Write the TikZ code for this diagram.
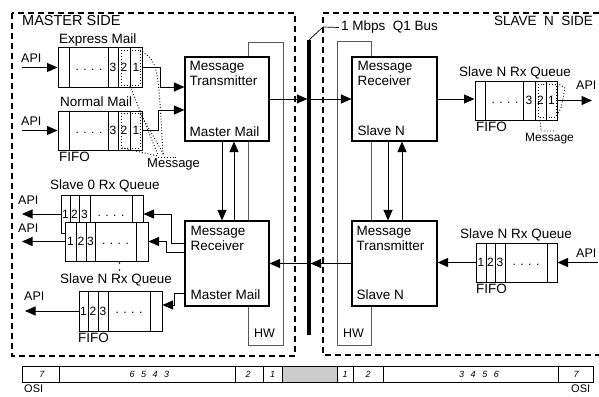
\documentclass[tikz,border=0pt]{standalone}
\usepackage{fontspec}
\setmainfont{Liberation Sans}
\usetikzlibrary{arrows.meta, positioning}
\tikzstyle{unit} = [draw, line width=1.1pt, fill=white, minimum width=84, minimum height=84, inner sep=0pt]
\tikzstyle{queue} = [draw, line width=1pt, fill=white, minimum width=83, minimum height=39, inner sep=0pt]
\tikzstyle{hw} = [draw=black!65, line width=0.6pt, inner sep=0pt]
\tikzstyle{arrow} = [line width=1pt, -{Triangle[length=10.5pt, width=9pt]}]
\tikzstyle{side} = [line width=1.3pt, dash pattern=on 6pt off 4pt]
\tikzstyle{lbl} = [anchor=base west, inner sep=0pt]
\tikzstyle{cell} = [inner sep=0pt, font=\fontsize{12}{12}\selectfont]
\tikzstyle{small} = [lbl, font=\fontsize{12.5}{12.5}\selectfont]
\tikzstyle{osinum} = [inner sep=0pt, font=\fontsize{9}{9}\selectfont\itshape]
\tikzstyle{msg} = [line width=0.9pt, dotted]
\newcommand{\osigap}{\hspace{6.5pt}}

\begin{document}
\begin{tikzpicture}[x=1pt, y=-1pt, font=\fontsize{13.5}{15}\selectfont]
\useasboundingbox (0,0) rectangle (599,396);

% both sides
\draw[side] (12,13) rectangle (295,356);
\draw[side] (599,13) -- (323,13) -- (323,355) -- (599,355);
\node[lbl, font=\fontsize{14.5}{15}\selectfont] (mside) at (22,26) {MASTER SIDE};
\node[lbl, anchor=base east] (sside) at (593,26) {SLAVE\ \ N\ \ SIDE};

% hardware frames
\node[hw, minimum width=35, minimum height=303] (mhw) at (265.5,193.5) {};
\node[hw, minimum width=34, minimum height=304] (shw) at (354,193) {};
\node[small] (mhwt) at (254,337) {HW};
\node[small] (shwt) at (343,337) {HW};

% the bus
\coordinate (bustop) at (309,40);
\coordinate (busbot) at (309,335);
\draw[line width=3.2pt] (bustop) -- (busbot);
\node[lbl] (buslab) at (341,31) {1 Mbps\ \ Q1 Bus};
\draw[line width=0.7pt] (bustop) -- ++(14,-13) -- ([xshift=-2pt]buslab.west);

% message units
\node[unit] (mtx) at (227,99) {};
\node[unit, minimum height=85] (mrx) at (227,263.5) {};
\node[unit, minimum width=85] (srx) at (394.5,99) {};
\node[unit, minimum width=85, minimum height=85] (stx) at (394.5,263.5) {};

\node[lbl] (mtxa) at ([xshift=5pt,yshift=-14pt]mtx.north west) {Message};
\node[lbl] (mtxb) at ([yshift=-15pt]mtxa.base west) {Transmitter};
\node[lbl] (mtxc) at ([xshift=5pt,yshift=5pt]mtx.south west) {Master Mail};
\node[lbl] (mrxa) at ([xshift=6pt,yshift=-15pt]mrx.north west) {Message};
\node[lbl] (mrxb) at ([yshift=-15pt]mrxa.base west) {Receiver};
\node[lbl] (mrxc) at ([xshift=6pt,yshift=7pt]mrx.south west) {Master Mail};
\node[lbl] (srxa) at ([xshift=6pt,yshift=-14pt]srx.north west) {Message};
\node[lbl] (srxb) at ([yshift=-15pt]srxa.base west) {Receiver};
\node[lbl] (srxc) at ([xshift=6pt,yshift=6pt]srx.south west) {Slave N};
\node[lbl] (stxa) at ([xshift=5pt,yshift=-15pt]stx.north west) {Message};
\node[lbl] (stxb) at ([yshift=-15pt]stxa.base west) {Transmitter};
\node[lbl] (stxc) at ([xshift=5pt,yshift=7pt]stx.south west) {Slave N};

\draw[arrow] ([xshift=-5pt]mtx.south) -- ([xshift=-5pt]mrx.north);
\draw[arrow] ([xshift=7pt]mrx.north) -- ([xshift=7pt]mtx.south);
\draw[arrow] ([xshift=-6.5pt]srx.south) -- ([xshift=-6.5pt]stx.north);
\draw[arrow] ([xshift=7.5pt]stx.north) -- ([xshift=7.5pt]srx.south);

% across the bus
\coordinate (busin) at (bustop |- mtx.east);
\coordinate (busout) at (bustop |- stx.west);
\draw[arrow] (mtx.east) -- ([xshift=-1.6pt]busin);
\draw[arrow] (busin) -- (srx.west);
\draw[arrow] (stx.west) -- ([xshift=1.6pt]busout);
\draw[arrow] (busout) -- (mrx.east);

% master mail queues
\node[queue, minimum width=84] (qexp) at (100,67.5) {};
\foreach \x in {69,108,118,130} \draw[line width=1pt] (\x,0 |- qexp.north) -- (\x,0 |- qexp.south);
\foreach \n/\x in {3/113,2/124,1/136} \node[cell] (qexp\n) at (\x,0 |- qexp) {\n};
\node[cell] (qexpd) at (89,70) {. . . .};
\node[lbl] (qexpl) at (59,44) {Express Mail};

\node[queue, minimum width=84] (qnor) at (100,130.5) {};
\foreach \x in {69,108,118,130} \draw[line width=1pt] (\x,0 |- qnor.north) -- (\x,0 |- qnor.south);
\foreach \n/\x in {3/113,2/124,1/136} \node[cell] (qnor\n) at (\x,0 |- qnor) {\n};
\node[cell] (qnord) at (89,133) {. . . .};
\node[lbl] (qnorl) at (60,106) {Normal Mail};
\node[lbl] (qnorf) at (59,161) {FIFO};

\node[small] (apiexpt) at (21,63) {API};
\node[small] (apinort) at (21,125) {API};
\coordinate (apiexp) at (qexp.west -| 22,0);
\coordinate (apinor) at (qnor.west -| 22,0);
\draw[arrow] (apiexp) -- (qexp.west);
\draw[arrow] (apinor) -- (qnor.west);
\draw[arrow] (qexp.east) -- ++(18,0) |- ([yshift=12pt]mtx.west);
\draw[arrow] (qnor.east) -- ++(16,0) |- ([yshift=-11pt]mtx.west);

% message marks, master side
\draw[msg] (121,50) rectangle (140,85);
\draw[msg] (121,113) rectangle (140,148);
\draw[msg] (140,50) .. controls (158,62) .. (163,155);
\draw[msg] (130,86) -- (158,155);
\draw[msg] (140,113) -- (164,155);
\draw[msg] (122,148) -- (158,156);
\draw[msg] (158,157) -- (178,157);
\node[lbl, font=\fontsize{13}{13}\selectfont] (mmsg) at (147,167) {Message};

% slave rx queues on the master side
\node[queue, minimum width=82, minimum height=38] (qs0a) at (102,214) {};
\foreach \x in {70,79,90,132} \draw[line width=1pt] (\x,0 |- qs0a.north) -- (\x,0 |- qs0a.south);
\foreach \n/\x in {1/65.5,2/74.5,3/84.5} \node[cell] (qs0a\n) at (\x,0 |- qs0a) {\n};
\node[cell] (qs0ad) at (111,216) {. . . .};
\node[lbl] (qs0al) at (50,189) {Slave 0 Rx Queue};

\node[queue] (qs0b) at (106.5,241.5) {};
\foreach \x in {76,86,95,136} \draw[line width=1pt] (\x,0 |- qs0b.north) -- (\x,0 |- qs0b.south);
\foreach \n/\x in {1/70.5,2/81,3/90.5} \node[cell] (qs0b\n) at (\x,0 |- qs0b) {\n};
\node[cell] (qs0bd) at (115.5,244) {. . . .};

\foreach \y in {263,270,277} \fill (119.5,\y) circle (0.9);

\node[queue, minimum height=40] (qsn) at (120.5,311) {};
\foreach \x in {88,98,108,150} \draw[line width=1pt] (\x,0 |- qsn.north) -- (\x,0 |- qsn.south);
\foreach \n/\x in {1/83.5,2/93,3/103} \node[cell] (qsn\n) at (\x,0 |- qsn) {\n};
\node[cell] (qsnd) at (129,313) {. . . .};
\node[lbl] (qsnl) at (60,283) {Slave N Rx Queue};
\node[lbl] (qsnf) at (78,342) {FIFO};

\node[small] (apis0at) at (18,204) {API};
\node[small] (apis0bt) at (18,232) {API};
\node[small] (apisnt) at (24,300) {API};
\coordinate (apis0a) at (qs0a.west -| 22,0);
\coordinate (apis0b) at (qs0b.west -| 22,0);
\coordinate (apisn) at (qsn.west -| 25,0);
\draw[arrow] (qs0a.west) -- (apis0a);
\draw[arrow] (qs0b.west) -- (apis0b);
\draw[arrow] (qsn.west) -- (apisn);
\draw[arrow] ([yshift=20.5pt]mrx.west) -- ++(-13,0) |- (qs0a.east);
\draw[arrow] ([yshift=11.5pt]mrx.west) -- ++(-18,0) |- (qs0b.east);
\draw[arrow] ([yshift=-29.5pt]mrx.west) -- ++(-10,0) |- ([yshift=6pt]qsn.east);

% slave side queues
\node[queue, minimum width=82] (qsrx) at (516,100.5) {};
\foreach \x in {485,523,535,546} \draw[line width=1pt] (\x,0 |- qsrx.north) -- (\x,0 |- qsrx.south);
\foreach \n/\x in {3/529,2/540.5,1/551.5} \node[cell] (qsrx\n) at (\x,0 |- qsrx) {\n};
\node[cell] (qsrxd) at (505,103) {. . . .};
\node[lbl] (qsrxl) at (459,77) {Slave N Rx Queue};
\node[lbl] (qsrxf) at (476,131) {FIFO};
\draw[arrow] (srx.east) -- (qsrx.west |- srx.east);
\coordinate (apisrx) at (qsrx.east -| 592,0);
\draw[arrow] (qsrx.east) -- (apisrx);
\node[small] (apisrxt) at (576,89) {API};

\draw[msg] (538,84) rectangle (556,117);
\draw[msg] (540,117) -- (541,131) -- (556,131);
\draw[msg] (557,83) -- (565,88) -- (561,108) -- (556,117);
\node[lbl, font=\fontsize{12}{12}\selectfont] (smsg) at (525,141) {Message};

\node[queue, minimum width=81] (qstx) at (516.5,262.5) {};
\foreach \x in {486,495,505,547} \draw[line width=1pt] (\x,0 |- qstx.north) -- (\x,0 |- qstx.south);
\foreach \n/\x in {1/481,2/490.5,3/500} \node[cell] (qstx\n) at (\x,0 |- qstx) {\n};
\node[cell] (qstxd) at (526,265) {. . . .};
\node[lbl] (qstxl) at (460,238) {Slave N Rx Queue};
\node[lbl] (qstxf) at (476,293) {FIFO};
\coordinate (apistx) at (qstx.east -| 598,0);
\draw[arrow] (apistx) -- (qstx.east);
\draw[arrow] (qstx.west) -- (stx.east |- qstx.west);
\node[small] (apistxt) at (576,257) {API};

% OSI layers
\node[minimum width=570, minimum height=15, inner sep=0pt] (osi) at (308,374.5) {};
\fill[black!20] (282,0 |- osi.north) rectangle (337,0 |- osi.south);
\draw[line width=0.8pt] (osi.north west) rectangle (osi.south east);
\foreach \x in {59,235,263,282,337,353,383,558} \draw[line width=0.8pt] (\x,0 |- osi.north) -- (\x,0 |- osi.south);
\foreach \t/\x [count=\i] in {7/42, 6\osigap5\osigap4\osigap3/149.5, 2/248, 1/272.5, 1/345, 2/368, 3\osigap4\osigap5\osigap6/479, 7/576}
  \node[osinum] (osi\i) at (\x,0 |- osi) {\t};
\node[lbl, font=\fontsize{11}{11}\selectfont] (osil) at (24,392) {OSI};
\node[lbl, font=\fontsize{11}{11}\selectfont] (osir) at (571,392) {OSI};
\end{tikzpicture}
\end{document}
